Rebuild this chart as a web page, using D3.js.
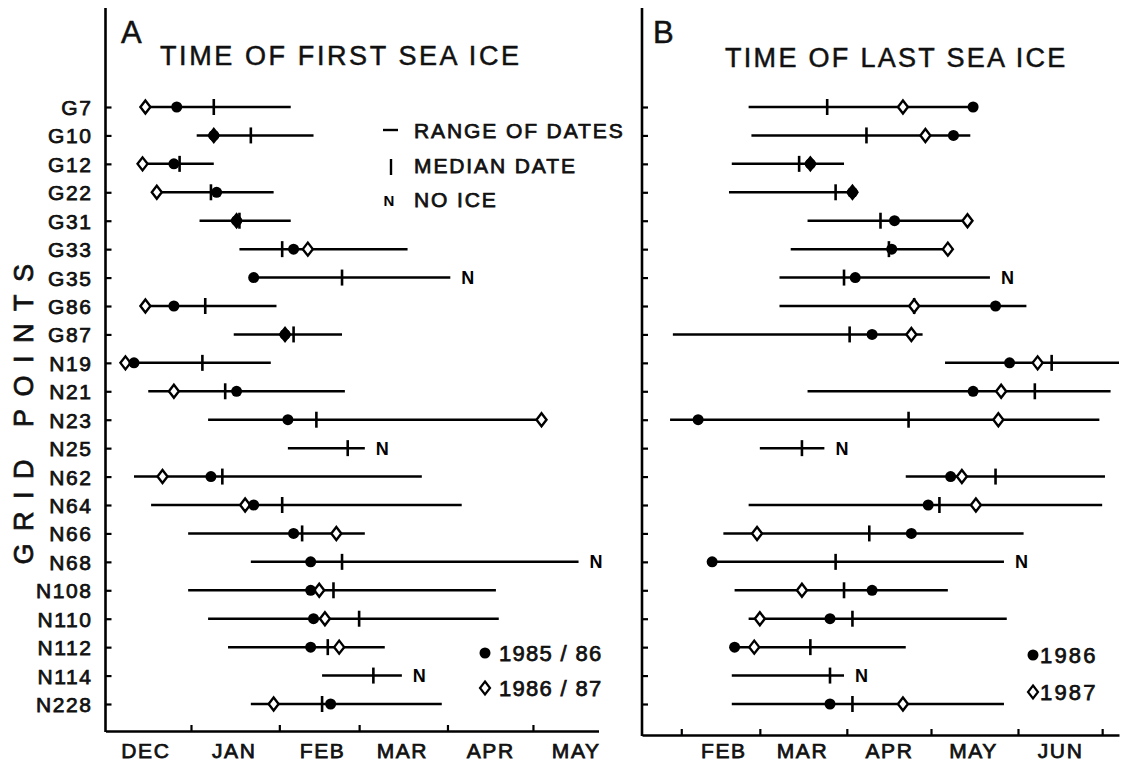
<!DOCTYPE html>
<html>
<head>
<meta charset="utf-8">
<script src="https://cdn.jsdelivr.net/npm/d3@7"></script>
<style>
  body { margin: 0; background: #fff; }
  svg { display: block; font-family: "Liberation Sans", Arial, Helvetica, sans-serif; }
  .lbl { fill: #111; stroke: #111; stroke-width: 0.75px; }
</style>
</head>
<body>
<svg id="chart"></svg>
<script>
// sea ice timing chart: two panels (first / last sea ice) per grid point

const W = 1133, H = 766;

const gridPoints = ['G7','G10','G12','G22','G31','G33','G35','G86','G87','N19','N21',
  'N23','N25','N62','N64','N66','N68','N108','N110','N112','N114','N228'];
const noIcePoints = ['G35','N25','N68','N114'];

// Panel A: time of first sea ice (null = no mark)
const firstStart = ['Dec 16','Jan 3','Dec 15','Dec 20','Jan 4','Jan 18','Jan 23','Dec 16','Jan 16','Dec 9','Dec 17',
  'Jan 7','Feb 4','Dec 12','Dec 18','Dec 31','Jan 22','Dec 31','Jan 7','Jan 14','Feb 16','Jan 22'];
const firstEnd = ['Feb 5','Feb 13','Jan 9','Jan 30','Feb 5','Mar 18','Apr 2','Jan 31','Feb 23','Jan 29','Feb 24',
  'May 4','Mar 3','Mar 23','Apr 6','Mar 3','May 17','Apr 18','Apr 19','Mar 10','Mar 16','Mar 30'];
const firstMedian = ['Jan 9','Jan 22','Dec 28','Jan 8','Jan 18','Feb 2','Feb 23','Jan 6','Feb 6','Jan 5','Jan 13',
  'Feb 14','Feb 25','Jan 12','Feb 2','Feb 9','Feb 23','Feb 20','Mar 1','Feb 18','Mar 6','Feb 16'];
const first1985_86 = ['Dec 27','Jan 9','Dec 26','Jan 10','Jan 17','Feb 6','Jan 23','Dec 26','Feb 3','Dec 12','Jan 17',
  'Feb 4',null,'Jan 8','Jan 23','Feb 6','Feb 12','Feb 12','Feb 13','Feb 12',null,'Feb 19'];
const first1986_87 = ['Dec 16','Jan 9','Dec 15','Dec 20','Jan 17','Feb 11',null,'Dec 16','Feb 3','Dec 9','Dec 26',
  'May 4',null,'Dec 22','Jan 20','Feb 21',null,'Feb 15','Feb 17','Feb 22',null,'Jan 30'];
const firstMonths = ['DEC','JAN','FEB','MAR','APR','MAY'];
const firstSeasons = ['1985 / 86','1986 / 87'];

// Panel B: time of last sea ice
const lastStart = ['Feb 25','Feb 26','Feb 19','Feb 18','Mar 18','Mar 12','Mar 8','Mar 8','Jan 29','May 6','Mar 18',
  'Jan 28','Mar 1','Apr 22','Feb 25','Feb 16','Feb 12','Feb 20','Feb 25','Feb 19','Feb 19','Feb 19'];
const lastEnd = ['May 16','May 15','Mar 31','Apr 3','May 14','May 7','May 22','Jun 4','Apr 28','Jul 7','Jul 4',
  'Jun 30','Mar 24','Jul 2','Jul 1','Jun 3','May 27','May 7','May 28','Apr 22','Mar 31','May 27'];
const lastMedian = ['Mar 25','Apr 8','Mar 15','Mar 28','Apr 13','Apr 16','Mar 31','Apr 25','Apr 2','Jun 13','Jun 7',
  'Apr 23','Mar 16','May 24','May 4','Apr 9','Mar 28','Mar 31','Apr 3','Mar 19','Mar 26','Apr 3'];
const last1986 = ['May 16','May 9','Mar 19','Apr 3','Apr 18','Apr 17','Apr 4','May 24','Apr 10','May 29','May 16',
  'Feb 7',null,'May 8','Apr 30','Apr 24','Feb 12','Apr 10','Mar 26','Feb 20',null,'Mar 26'];
const last1987 = ['Apr 21','Apr 29','Mar 19','Apr 3','May 14','May 7',null,'Apr 25','Apr 24','Jun 8','May 26',
  'May 25',null,'May 12','May 17','Feb 28',null,'Mar 16','Mar 1','Feb 27',null,'Apr 21'];
const lastMonths = ['FEB','MAR','APR','MAY','JUN'];
const lastSeasons = ['1986','1987'];

// reference season: Dec 2001 .. Jul 2002
const parseMD = d3.timeParse('%b %d %Y');
function toDate(s) {
  if (s == null) return null;
  return parseMD(s + (/^dec/i.test(s) ? ' 2001' : ' 2002'));
}

const svg = d3.select('#chart').attr('width', W).attr('height', H);
svg.append('rect').attr('width', W).attr('height', H).attr('fill', '#fff');

const y = d3.scalePoint().domain(gridPoints).range([107, 704]);

const diamondPath = (s) => `M0,${-6.5*s}L${5*s},0L0,${6.5*s}L${-5*s},0Z`;

function drawPanel(p) {
  const x = d3.scaleTime().domain([toDate(p.from), toDate(p.to)]).range(p.range);
  const g = svg.append('g');
  const x0 = p.range[0];

  // vertical axis line
  g.append('line')
    .attr('x1', x0).attr('x2', x0)
    .attr('y1', 8).attr('y2', p.base + 1)
    .attr('stroke', '#000').attr('stroke-width', 2.6);

  // y ticks + grid point labels
  const yAxis = d3.axisLeft(y).tickSizeInner(-6).tickSizeOuter(0).tickPadding(13);
  if (!p.showLabels) yAxis.tickFormat('');
  const ya = g.append('g').attr('transform', `translate(${x0},0)`).call(yAxis);
  ya.select('.domain').remove();
  ya.selectAll('line').attr('stroke', '#000').attr('stroke-width', 2.2);
  ya.selectAll('text').attr('class', 'lbl')
    .style('font-size', '21px').style('letter-spacing', '1.6px')
    .attr('dy', '0.36em');

  // x axis: month boundary ticks
  const monthStarts = d3.timeMonth.range(x.domain()[0], x.domain()[1]);
  const xa = g.append('g').attr('transform', `translate(0,${p.base})`)
    .call(d3.axisBottom(x).tickValues(monthStarts).tickSizeInner(-6).tickSizeOuter(0).tickFormat(''));
  xa.select('.domain').attr('stroke', '#000').attr('stroke-width', 2.6);
  xa.selectAll('line').attr('stroke', '#000').attr('stroke-width', 2.2);

  // month labels at mid-month
  const mids = p.months.map(m => toDate(m + ' 16'));
  const xl = g.append('g').attr('transform', `translate(0,${p.base})`)
    .call(d3.axisBottom(x).tickValues(mids).tickSize(0).tickPadding(p.labelPad)
      .tickFormat((d, i) => p.months[i]));
  xl.select('.domain').remove();
  xl.selectAll('text').attr('class', 'lbl')
    .style('font-size', '21px').style('letter-spacing', '1.6px');

  // rows
  const rows = gridPoints.map((gp, i) => ({
    gp,
    start: toDate(p.start[i]), end: toDate(p.end[i]), median: toDate(p.median[i]),
    a: toDate(p.dots[i]), b: toDate(p.diamonds[i]),
    noIce: noIcePoints.includes(gp)
  }));

  const rg = g.append('g');
  rg.selectAll('line.range').data(rows).join('line')
    .attr('class', 'range')
    .attr('x1', d => x(d.start)).attr('x2', d => x(d.end))
    .attr('y1', d => y(d.gp)).attr('y2', d => y(d.gp))
    .attr('stroke', '#000').attr('stroke-width', 2.5);

  rg.selectAll('line.median').data(rows).join('line')
    .attr('class', 'median')
    .attr('x1', d => x(d.median)).attr('x2', d => x(d.median))
    .attr('y1', d => y(d.gp) - 8).attr('y2', d => y(d.gp) + 8)
    .attr('stroke', '#000').attr('stroke-width', 2.6);

  rg.selectAll('path.dia').data(rows.filter(d => d.b)).join('path')
    .attr('class', 'dia')
    .attr('transform', d => `translate(${x(d.b)},${y(d.gp)})`)
    .attr('d', diamondPath(1))
    .attr('fill', '#fff').attr('stroke', '#000').attr('stroke-width', 2.4);

  rg.selectAll('circle.dot').data(rows.filter(d => d.a)).join('circle')
    .attr('class', 'dot')
    .attr('cx', d => x(d.a)).attr('cy', d => y(d.gp))
    .attr('r', 5.5).attr('fill', '#000');

  rg.selectAll('text.noice').data(rows.filter(d => d.noIce)).join('text')
    .attr('class', 'noice')
    .attr('x', d => x(d.end) + 11).attr('y', d => y(d.gp) + 6.5)
    .style('font-size', '18px').style('font-weight', 'bold')
    .text('N');

  // panel letter + title
  g.append('text').attr('class', 'lbl').attr('x', p.letterX).attr('y', 43)
    .style('font-size', '31px').style('stroke-width', '0.5px').text(p.letter);
  g.append('text').attr('class', 'lbl').attr('x', p.titleX).attr('y', p.titleY)
    .style('font-size', '27px').style('letter-spacing', p.titleSpacing).style('stroke-width', '0.5px')
    .text(p.title);

  // season legend
  const lg = g.append('g');
  lg.append('circle').attr('cx', p.legX).attr('cy', p.legY[0]).attr('r', 5.5).attr('fill', '#000');
  lg.append('path').attr('transform', `translate(${p.legX},${p.legY[1]})`)
    .attr('d', diamondPath(1)).attr('fill', '#fff').attr('stroke', '#000').attr('stroke-width', 2.2);
  p.seasons.forEach((s, i) => {
    lg.append('text').attr('class', 'lbl')
      .attr('x', p.legX + p.legGap).attr('y', p.legY[i] + 8)
      .style('font-size', '22px').style('letter-spacing', p.legSpacing)
      .text(s);
  });
  return g;
}

const gA = drawPanel({
  from: 'Dec 2', to: 'May 24', range: [105.5, 598.5], base: 731, labelPad: 12,
  start: firstStart, end: firstEnd, median: firstMedian, dots: first1985_86, diamonds: first1986_87,
  months: firstMonths, showLabels: true,
  letter: 'A', letterX: 121, title: 'TIME OF FIRST SEA ICE', titleX: 160, titleY: 65, titleSpacing: '2.6px',
  seasons: firstSeasons, legX: 485, legY: [653, 688], legGap: 14, legSpacing: '1.3px'
});

drawPanel({
  from: 'Jan 18', to: 'Jul 7', range: [642, 1119], base: 735, labelPad: 8,
  start: lastStart, end: lastEnd, median: lastMedian, dots: last1986, diamonds: last1987,
  months: lastMonths, showLabels: false,
  letter: 'B', letterX: 653, title: 'TIME OF LAST SEA ICE', titleX: 725, titleY: 67, titleSpacing: '2.3px',
  seasons: lastSeasons, legX: 1033, legY: [655, 692], legGap: 7, legSpacing: '2.2px'
});

// key for marks (panel A)
const key = gA.append('g');
key.append('line').attr('x1', 383).attr('x2', 398).attr('y1', 130).attr('y2', 130)
  .attr('stroke', '#000').attr('stroke-width', 2.4);
key.append('line').attr('x1', 391).attr('x2', 391).attr('y1', 159).attr('y2', 175)
  .attr('stroke', '#000').attr('stroke-width', 2.4);
key.append('text').attr('x', 389).attr('y', 206).attr('text-anchor', 'middle')
  .style('font-size', '15px').style('font-weight', 'bold').text('N');
const keyLabels = ['RANGE OF DATES', 'MEDIAN DATE', 'NO ICE'];
key.selectAll('text.k').data(keyLabels).join('text')
  .attr('class', 'k lbl')
  .attr('x', 414).attr('y', (d, i) => 138 + i * 34.5)
  .style('font-size', '21px').style('letter-spacing', '1.9px')
  .text(d => d);

// y-axis title
svg.append('text').attr('class', 'lbl')
  .attr('transform', 'translate(33,408) rotate(-90)')
  .attr('text-anchor', 'middle')
  .style('font-size', '27px').style('letter-spacing', '12.5px')
  .text('GRID POINTS');
</script>
</body>
</html>
